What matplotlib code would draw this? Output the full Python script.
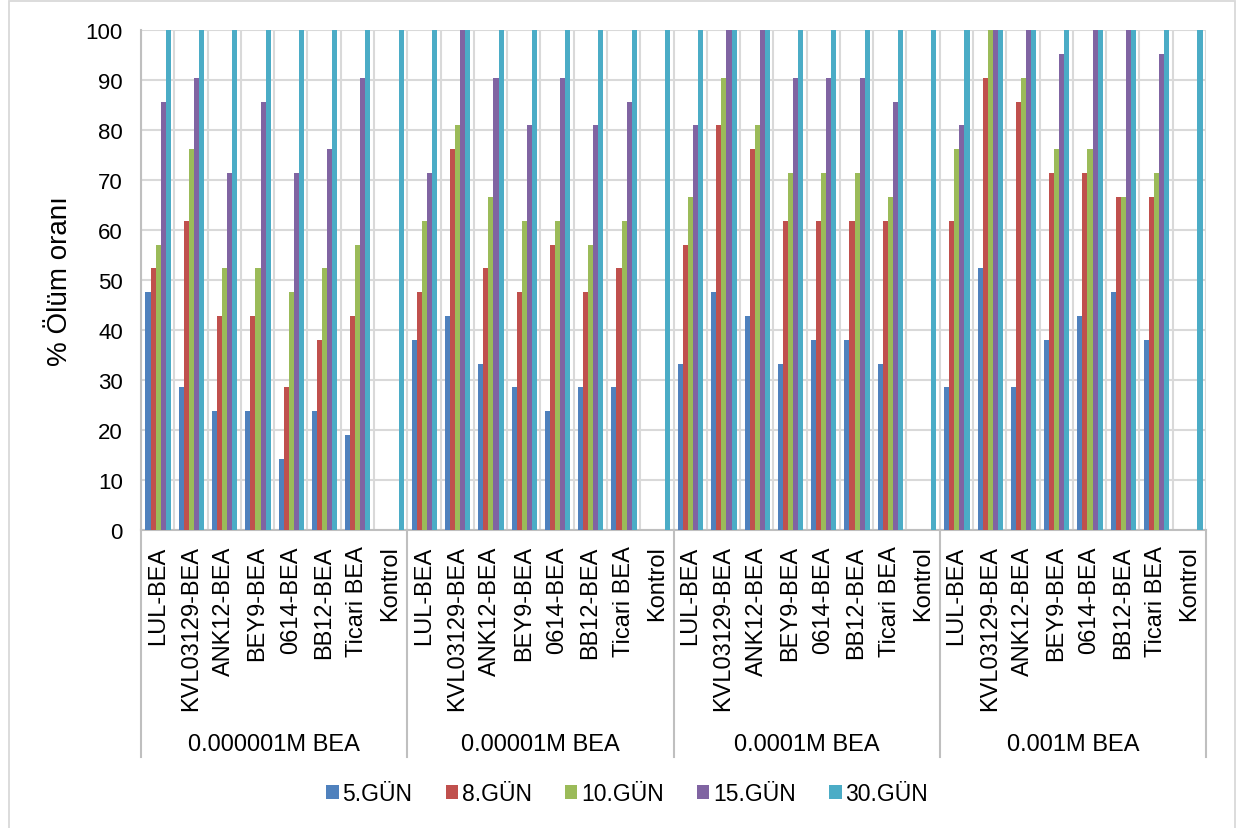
import numpy as np
import matplotlib.pyplot as plt
from matplotlib import transforms
from matplotlib.patches import Rectangle

plt.rcParams['font.family'] = ['Liberation Sans', 'DejaVu Sans']

# dozlar ve izolatlar
konsantrasyon = ['0.000001M BEA', '0.00001M BEA', '0.0001M BEA', '0.001M BEA']
izolatlar = ['LUL-BEA', 'KVL03129-BEA', 'ANK12-BEA', 'BEY9-BEA',
             '0614-BEA', 'BB12-BEA', 'Ticari BEA', 'Kontrol']
gunler = ['5.GÜN', '8.GÜN', '10.GÜN', '15.GÜN', '30.GÜN']

# % olum orani, her satir bir konsantrasyon
gun5 = [47.6, 28.6, 23.8, 23.8, 14.3, 23.8, 19.0, 0,
        38.1, 42.9, 33.3, 28.6, 23.8, 28.6, 28.6, 0,
        33.3, 47.6, 42.9, 33.3, 38.1, 38.1, 33.3, 0,
        28.6, 52.4, 28.6, 38.1, 42.9, 47.6, 38.1, 0]
gun8 = [52.4, 61.9, 42.9, 42.9, 28.6, 38.1, 42.9, 0,
        47.6, 76.2, 52.4, 47.6, 57.1, 47.6, 52.4, 0,
        57.1, 81.0, 76.2, 61.9, 61.9, 61.9, 61.9, 0,
        61.9, 90.5, 85.7, 71.4, 71.4, 66.7, 66.7, 0]
gun10 = [57.1, 76.2, 52.4, 52.4, 47.6, 52.4, 57.1, 0,
         61.9, 81.0, 66.7, 61.9, 61.9, 57.1, 61.9, 0,
         66.7, 90.5, 81.0, 71.4, 71.4, 71.4, 66.7, 0,
         76.2, 100, 90.5, 76.2, 76.2, 66.7, 71.4, 0]
gun15 = [85.7, 90.5, 71.4, 85.7, 71.4, 76.2, 90.5, 0,
         71.4, 100, 90.5, 81.0, 90.5, 81.0, 85.7, 0,
         81.0, 100, 100, 90.5, 90.5, 90.5, 85.7, 0,
         81.0, 100, 100, 95.2, 100, 100, 95.2, 0]
gun30 = [100, 100, 100, 100, 100, 100, 100, 100,
         100, 100, 100, 100, 100, 100, 100, 100,
         100, 100, 100, 100, 100, 100, 100, 100,
         100, 100, 100, 100, 100, 100, 100, 100]

seriler = [gun5, gun8, gun10, gun15, gun30]
renkler = ['#4F81BD', '#C0504D', '#9BBB59', '#8064A2', '#4BACC6']

fig = plt.figure(figsize=(12.51, 8.29), dpi=100)
ax = fig.add_axes([141 / 1251, 1 - 531 / 829, (1206 - 141) / 1251, 500 / 829])

n = len(konsantrasyon) * len(izolatlar)
x = np.arange(n)
w = 0.152
for i, (y, c, lab) in enumerate(zip(seriler, renkler, gunler)):
    ax.bar(x + (i - 2) * w + 0.015, y, width=w, color=c, label=lab,
           zorder=3, edgecolor='none')

ax.set_xlim(-0.5, n - 0.5)
ax.set_ylim(0, 100)
ax.set_yticks(np.arange(0, 101, 10))
ax.yaxis.grid(True, color='#d9d9d9', linewidth=1.5, zorder=0)
for k in range(n + 1):
    ax.axvline(k - 0.5, color='#d9d9d9', linewidth=1.5, zorder=0)

ax.set_xticks(x)
ax.set_xticklabels(izolatlar * len(konsantrasyon), rotation=90, fontsize=17)
ax.tick_params(axis='x', length=0, pad=11)
ax.tick_params(axis='y', length=0, pad=13, labelsize=16)

for s in ['top', 'right']:
    ax.spines[s].set_visible(False)
for s in ['left', 'bottom']:
    ax.spines[s].set_color('#bfbfbf')
    ax.spines[s].set_linewidth(1.5)

ax.set_ylabel('% Ölüm oranı', fontsize=20)
ax.yaxis.set_label_coords(-0.064, 0.5)

# grup ayiricilari ve konsantrasyon etiketleri
tr = transforms.blended_transform_factory(ax.transData, ax.transAxes)
g = len(izolatlar)
for k in range(len(konsantrasyon) + 1):
    ax.plot([k * g - 0.5, k * g - 0.5], [0, -0.454], transform=tr,
            color='#bfbfbf', linewidth=1.5, clip_on=False)
for k, ad in enumerate(konsantrasyon):
    ax.text(k * g + (g - 1) / 2, -0.428, ad, transform=tr, ha='center',
            va='center', fontsize=17)

fig.legend(loc='center', bbox_to_anchor=(627 / 1251, 1 - 795 / 829), ncol=5,
           frameon=False, fontsize=16.5, handlelength=0.55, handleheight=0.55,
           handletextpad=0.15, columnspacing=1.45)

# dis cerceve
fig.patches.append(Rectangle((9 / 1251, -0.01), (1235 - 9) / 1251,
                             1 - 2 / 829 + 0.01, transform=fig.transFigure,
                             fill=False, edgecolor='#d9d9d9', linewidth=1.3))

fig.savefig('out.png', dpi=100)
